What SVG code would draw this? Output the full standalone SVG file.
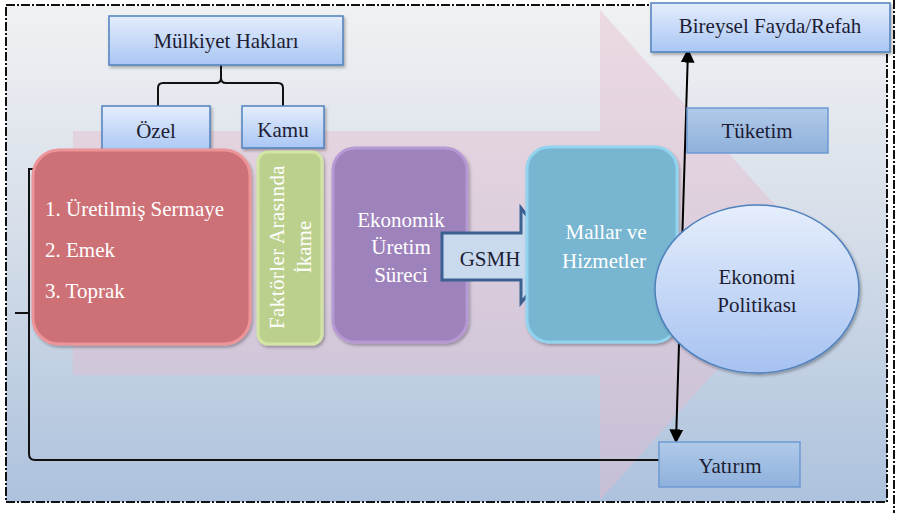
<svg xmlns="http://www.w3.org/2000/svg" width="897" height="513" viewBox="0 0 897 513" font-family="Liberation Serif, DejaVu Serif, serif">
  <defs>
    <linearGradient id="bg" x1="0" y1="0" x2="0" y2="1">
      <stop offset="0" stop-color="#f0f1f3"/>
      <stop offset="0.45" stop-color="#d6dee9"/>
      <stop offset="1" stop-color="#adc2dd"/>
    </linearGradient>
    <linearGradient id="lightBox" x1="0" y1="0" x2="0" y2="1">
      <stop offset="0" stop-color="#e4edfc"/>
      <stop offset="1" stop-color="#a9c6f4"/>
    </linearGradient>
    <linearGradient id="midBox" x1="0" y1="0" x2="0" y2="1">
      <stop offset="0" stop-color="#b0cae9"/>
      <stop offset="1" stop-color="#8fb1dc"/>
    </linearGradient>
    <linearGradient id="ellipseFill" x1="0" y1="0" x2="0" y2="1">
      <stop offset="0" stop-color="#e6eefc"/>
      <stop offset="1" stop-color="#a6c2f1"/>
    </linearGradient>
    <filter id="shadow" x="-10%" y="-10%" width="125%" height="130%">
      <feDropShadow dx="1.5" dy="2" stdDeviation="1.5" flood-color="#000" flood-opacity="0.3"/>
    </filter>
    <marker id="arrow" viewBox="0 0 10 10" refX="9" refY="5" markerWidth="7" markerHeight="7" orient="auto-start-reverse">
      <path d="M0,0 L10,5 L0,10 z" fill="#000"/>
    </marker>
    <style>
      text { font-family: 'Liberation Serif', 'DejaVu Serif', serif; }
      .lbl { font-size: 21px; fill: #1d1d33; text-anchor: middle; }
      .wt { font-size: 21px; fill: #ffffff; }
      .mid { text-anchor: middle; }
      .blueBox { fill: url(#lightBox); stroke: #4f81bd; stroke-width: 1.5; filter: url(#shadow); }
      .midBox { fill: url(#midBox); stroke: #6d9ad2; stroke-width: 1.5; }
      .conn { fill: none; stroke: #111; stroke-width: 2; }
      .frame { fill: none; stroke: #111; stroke-width: 2; stroke-dasharray: 9 2 2 2; }
    </style>
  </defs>

  <!-- background panel and frame -->
  <rect x="6" y="6" width="881" height="496" fill="url(#bg)"/>
  <rect x="6" y="5" width="881" height="497" class="frame"/>
  <line x1="894" y1="0" x2="894" y2="513" class="frame"/>

  <!-- large translucent flow arrow -->
  <path d="M73,131 H600 V10 L820,255 L600,500 V375 H73 Z" fill="#e8b9cc" fill-opacity="0.42"/>

  <!-- connectors -->
  <g id="connectors">
    <path class="conn" d="M221,62 V78 Q221,83 216,83 H163 Q158,83 158,88 V106"/>
    <path class="conn" d="M221,78 Q221,83 226,83 H278 Q283,83 283,88 V106"/>
    <path class="conn" d="M43,169 H29 V454 Q29,460 35,460 H659" stroke="#2a2a2a"/>
    <line class="conn" x1="15" y1="313" x2="29" y2="313"/>
    <line x1="688" y1="50" x2="676" y2="442" stroke="#000" stroke-width="2" marker-start="url(#arrow)" marker-end="url(#arrow)"/>
  </g>

  <g id="mulkiyet">
    <rect x="109" y="16" width="234" height="49" class="blueBox"/>
    <text x="226" y="48" class="lbl">Mülkiyet Hakları</text>
  </g>
  <g id="ozel">
    <rect x="102" y="106" width="108" height="47" class="blueBox"/>
    <text x="156" y="138" class="lbl">Özel</text>
  </g>
  <g id="kamu">
    <rect x="242" y="106" width="82" height="42" class="blueBox"/>
    <text x="283" y="137" class="lbl">Kamu</text>
  </g>

  <g id="faktorler">
    <rect x="33" y="150" width="217" height="194" rx="26" fill="#cd7177" stroke="#ec9498" stroke-width="3" filter="url(#shadow)"/>
    <text x="45" y="216" class="wt">1. Üretilmiş Sermaye</text>
    <text x="45" y="257" class="wt">2. Emek</text>
    <text x="45" y="298" class="wt">3. Toprak</text>
  </g>

  <g id="ikame">
    <rect x="258" y="152" width="64" height="192" rx="10" fill="#bcd08d" stroke="#d3e5a6" stroke-width="3" filter="url(#shadow)"/>
    <text transform="translate(284,247) rotate(-90)" class="wt mid" font-size="20" letter-spacing="0.4">Faktörler Arasında</text>
    <text transform="translate(311,247) rotate(-90)" class="wt mid" font-size="20">İkame</text>
  </g>

  <g id="uretim">
    <rect x="333" y="148" width="134" height="194" rx="22" fill="#9d82bb" stroke="#b698d3" stroke-width="3" filter="url(#shadow)"/>
    <text x="401" y="227" class="wt mid">Ekonomik</text>
    <text x="401" y="254" class="wt mid">Üretim</text>
    <text x="401" y="282" class="wt mid">Süreci</text>
  </g>

  <g id="gsmh">
    <path d="M442,233 H521 V208 L558,256 L521,303 V280 H442 Z" fill="#c9daef" stroke="#3c6191" stroke-width="3"/>
    <text x="490" y="266" class="lbl">GSMH</text>
  </g>

  <g id="mallar">
    <rect x="527" y="147" width="150" height="195" rx="22" fill="#77b5d0" stroke="#92d4ef" stroke-width="3" filter="url(#shadow)"/>
    <text x="606" y="239" class="wt mid">Mallar ve</text>
    <text x="604" y="268" class="wt mid">Hizmetler</text>
  </g>

  <g id="bireysel">
    <rect x="651" y="3" width="239" height="49" class="blueBox"/>
    <text x="770" y="33" class="lbl">Bireysel Fayda/Refah</text>
  </g>

  <g id="tuketim">
    <rect x="687" y="108" width="141" height="45" class="midBox"/>
    <text x="757" y="138" class="lbl">Tüketim</text>
  </g>

  <g id="politika">
    <ellipse cx="757" cy="289" rx="102" ry="84" fill="url(#ellipseFill)" stroke="#4f81bd" stroke-width="1.5" filter="url(#shadow)"/>
    <text x="757" y="284" class="lbl">Ekonomi</text>
    <text x="757" y="312" class="lbl">Politikası</text>
  </g>

  <g id="yatirim">
    <rect x="659" y="442" width="141" height="45" class="midBox"/>
    <text x="730" y="473" class="lbl">Yatırım</text>
  </g>
</svg>
